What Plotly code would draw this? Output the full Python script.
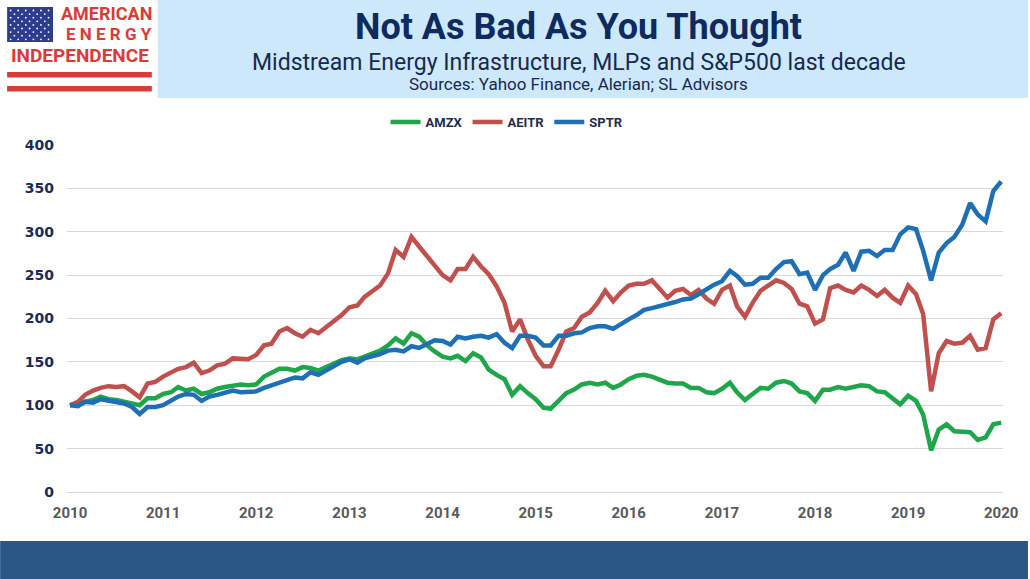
import pandas as pd
import plotly.graph_objects as go

# monthly index values, Jan 2010 = 100
months = pd.date_range("2010-01-01", periods=121, freq="MS")

amzx = [
    100, 102, 104, 106, 110, 107, 106, 104, 102, 100, 108, 108, 113, 115, 121, 117, 119, 113, 115, 119, 121, 122, 124, 123, 124,
    133, 137, 142, 142, 140, 144, 143, 140, 144, 149, 152, 154, 153, 156, 160, 163, 169, 177, 171, 183, 179, 169, 162, 156, 154,
    157, 151, 160, 155, 141, 135, 130, 112, 122, 114, 107, 97, 96, 105, 114, 118, 124, 126, 124, 126, 120, 124, 130, 134,
    135, 133, 130, 126, 125, 125, 120, 120, 115, 114, 119, 126, 115, 106, 113, 120, 119, 126, 128, 125, 116, 114, 105, 118,
    118, 121, 119, 121, 123, 122, 116, 115, 108, 101, 111, 105, 89, 48, 72, 78, 70, 69, 69, 60, 63, 78, 80,
]
aeitr = [
    100, 104, 112, 117, 120, 122, 121, 122, 116, 109, 125, 127, 133, 137, 142, 144, 149, 137, 140, 146, 148, 154, 153, 153, 158,
    169, 171, 185, 189, 183, 179, 187, 183, 190, 198, 204, 213, 215, 225, 231, 238, 252, 279, 271, 294, 283, 272, 260, 250, 244,
    257, 257, 271, 260, 251, 237, 218, 185, 199, 176, 157, 145, 145, 164, 185, 189, 202, 207, 218, 232, 220, 230, 238, 240,
    240, 244, 234, 224, 232, 234, 227, 233, 223, 217, 233, 238, 214, 202, 218, 232, 238, 244, 241, 234, 217, 214, 194, 199,
    235, 238, 233, 230, 238, 233, 226, 233, 224, 218, 238, 228, 205, 116, 160, 174, 171, 172, 180, 164, 166, 199, 206,
]
sptr = [
    100, 99, 104, 103, 107, 105, 104, 102, 98, 90, 98, 98, 100, 106, 110, 113, 112, 105, 110, 112, 114, 117, 115, 115, 116,
    120, 123, 127, 130, 132, 131, 138, 135, 140, 146, 150, 153, 149, 154, 156, 159, 163, 164, 162, 168, 166, 171, 175, 174, 170,
    179, 177, 179, 180, 178, 182, 172, 166, 180, 180, 178, 169, 169, 180, 180, 183, 184, 189, 191, 191, 188, 194, 199, 204,
    210, 212, 214, 217, 219, 222, 223, 228, 234, 239, 243, 255, 249, 239, 240, 247, 247, 257, 265, 266, 251, 253, 233, 250,
    257, 262, 276, 255, 277, 278, 272, 279, 279, 297, 305, 303, 278, 244, 276, 287, 294, 308, 333, 320, 312, 347, 358,
]

series = [("AMZX", amzx, "#1fa64b"), ("AEITR", aeitr, "#c0504d"), ("SPTR", sptr, "#1f6fb4")]
year_ticks = pd.date_range("2010-01-01", periods=11, freq="12MS")
year_labels = [str(d.year) for d in year_ticks]

W, H = 1030, 579
L, R, T, B = 67, 25, 145, 87
PW, PH = W - L - R, H - T - B


def px(x):
    # pixel x -> paper
    return (x - L) / PW


def py(y):
    # pixel y -> paper
    return (H - B - y) / PH


fig = go.Figure()
for name, vals, color in series:
    fig.add_trace(go.Scatter(x=months, y=vals, mode="lines", name=name,
                             line=dict(color=color, width=4.5)))

shapes = []
# header band
shapes.append(dict(type="rect", xref="paper", yref="paper", x0=px(158), x1=px(W), y0=py(98), y1=py(0),
                   fillcolor="#cde8fa", line_width=0, layer="below"))
# footer band
shapes.append(dict(type="rect", xref="paper", yref="paper", x0=px(0), x1=px(W), y0=py(H), y1=py(541),
                   fillcolor="#2a5785", line_width=0, layer="below"))
# logo: flag + stripes
shapes.append(dict(type="rect", xref="paper", yref="paper", x0=px(7), x1=px(53), y0=py(42), y1=py(7),
                   fillcolor="#2d3d8e", line_width=0))
for r in range(9):
    cols = 6 if r % 2 == 0 else 5
    off = 10.5 if r % 2 == 0 else 14.3
    for c in range(cols):
        cx, cy = off + c * 7.6, 10.5 + r * 3.6
        shapes.append(dict(type="circle", xref="paper", yref="paper",
                           x0=px(cx - 0.9), x1=px(cx + 0.9), y0=py(cy + 0.9), y1=py(cy - 0.9),
                           fillcolor="white", line_width=0))
for y0 in (72, 86):
    shapes.append(dict(type="rect", xref="paper", yref="paper", x0=px(7), x1=px(152), y0=py(y0 + 5.5), y1=py(y0),
                       fillcolor="#d63c3a", line_width=0))

logo_font = dict(family="Roboto", color="#d63c3a", weight="bold")
annotations = [
    dict(text="AMERICAN", x=px(153), y=py(13), xanchor="right", font=dict(size=18, **logo_font)),
    dict(text="E N E R G Y", x=px(153), y=py(33.5), xanchor="right", font=dict(size=17, **logo_font)),
    dict(text="INDEPENDENCE", x=px(80), y=py(55.5), xanchor="center", font=dict(size=19, **logo_font)),
]
for a in annotations:
    a.update(xref="paper", yref="paper", yanchor="middle", showarrow=False, borderpad=0)

annotations += [
    dict(text="Not As Bad As You Thought", x=px(580), y=py(27), xref="paper", yref="paper",
         showarrow=False, yanchor="middle",
         font=dict(family="Roboto", size=36, color="#0e2a5e", weight="bold")),
    dict(text="Midstream Energy Infrastructure, MLPs and S&P500 last decade", x=px(580), y=py(62),
         xref="paper", yref="paper", showarrow=False, yanchor="middle",
         font=dict(family="Roboto", size=23, color="#16294f")),
    dict(text="Sources: Yahoo Finance, Alerian; SL Advisors", x=px(580), y=py(84),
         xref="paper", yref="paper", showarrow=False, yanchor="middle",
         font=dict(family="Roboto", size=17, color="#16294f")),
]

fig.update_layout(
    width=W, height=H,
    margin=dict(l=L, r=R, t=T, b=B),
    paper_bgcolor="white", plot_bgcolor="white",
    showlegend=True,
    legend=dict(orientation="h", x=px(508), y=py(122), xanchor="center", yanchor="middle",
                itemwidth=30, font=dict(family="Roboto", size=13, color="#1f2d4d", weight="bold"),
                bgcolor="rgba(0,0,0,0)", traceorder="normal"),
    xaxis=dict(
        type="date", range=["2009-12-20", "2020-01-08"],
        tickvals=year_ticks, ticktext=year_labels,
        showgrid=False, showline=False, zeroline=False, ticks="",
        ticklabelstandoff=10,
        tickfont=dict(family="Roboto", size=15, color="#595959", weight="bold"),
    ),
    yaxis=dict(
        range=[0, 400], dtick=50, showgrid=True, gridcolor="#d9d9d9", gridwidth=1,
        zeroline=True, zerolinecolor="#d9d9d9", zerolinewidth=1, showline=False, ticks="",
        ticklabelstandoff=12,
        tickfont=dict(family="DejaVu Sans", size=14, color="#1a2b55", weight="bold"),
    ),
    shapes=shapes,
    annotations=annotations,
)

# drop the default page margin so the figure sits at the window's top-left corner
fig.write_html("out.html", config={"displayModeBar": False},
               post_script="document.body.style.margin='0';document.body.style.overflow='hidden';")
